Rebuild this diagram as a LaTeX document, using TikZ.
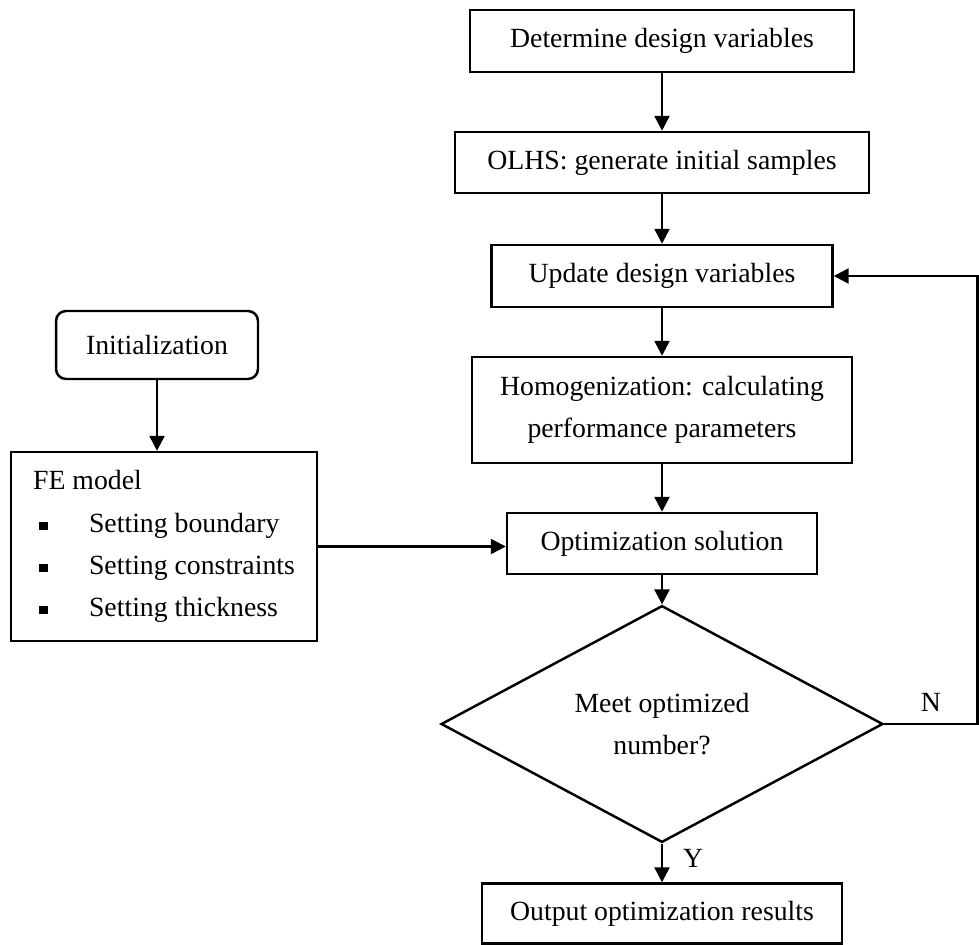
\documentclass[tikz,border=0pt]{standalone}
\usepackage{fontspec}
\setmainfont{Liberation Serif}
\usetikzlibrary{shapes.geometric,arrows.meta,positioning}
\newcommand{\sqbul}{\makebox[1.12cm][l]{\hspace{0.12cm}\rule[0.07em]{0.17cm}{0.17cm}}}
\tikzset{
  txt/.style={font=\fontsize{15.8}{24}\selectfont},
  procbox/.style={txt, draw, rectangle, line width=1.4pt, inner sep=0pt, align=center},
  startbox/.style={procbox, rounded corners=0.2cm},
  decision/.style={txt, draw, diamond, line width=1.4pt, inner sep=0pt, align=center},
  arrow/.style={line width=1.4pt, -{Triangle[length=0.3cm,width=0.3cm]}}
}

\begin{document}
\begin{tikzpicture}[x=0.02cm, y=-0.02cm]
      \useasboundingbox (0,0) rectangle (979,945);
      \node[procbox, minimum width=7.68cm, minimum height=1.24cm] (det) at (662,41) {Determine design variables};
      \node[procbox, minimum width=8.28cm, minimum height=1.22cm] (olhs) at (662,162.5) {OLHS: generate initial samples};
      \node[procbox, minimum width=6.82cm, minimum height=1.24cm] (upd) at (662,276) {Update design variables};
      \node[procbox, minimum width=7.6cm, minimum height=2.12cm] (homog) at (662,410) {Homogenization: calculating\\performance parameters};
      \node[procbox, minimum width=6.2cm, minimum height=1.22cm] (opt) at (662,543.5) {Optimization solution};
      \node[decision, minimum width=8.84cm, minimum height=3.98cm] (dec) at (662,724) {Meet optimized\\number?};
      \node[procbox, minimum width=7.2cm, minimum height=1.2cm] (out) at (662,913.5) {Output optimization results};
      \node[startbox, minimum width=4.04cm, minimum height=1.36cm] (init) at (157,345) {Initialization};
      \node[procbox, align=left, inner xsep=0.42cm, minimum width=6.12cm, minimum height=3.78cm] (fe) at (164,546.5)
        {FE model\\\sqbul Setting boundary\\\sqbul Setting constraints\\\sqbul Setting thickness};
      \coordinate (turn) at (977.5,724);
      \draw[arrow] (det) -- (olhs);
      \draw[arrow] (olhs) -- (upd);
      \draw[arrow] (upd) -- (homog);
      \draw[arrow] (homog) -- (opt);
      \draw[arrow] (opt) -- (dec);
      \draw[arrow] (dec) -- node[txt, right, xshift=0.28cm, yshift=0.1cm] {Y} (out);
      \draw[arrow] (init.south) -- (init.south |- fe.north);
      \draw[arrow] (fe.east) -- (fe.east -| opt.west);
      \draw[arrow] (dec.east) -- node[txt, above, yshift=0.1cm] {N} (turn) |- (upd.east);
\end{tikzpicture}
\end{document}
